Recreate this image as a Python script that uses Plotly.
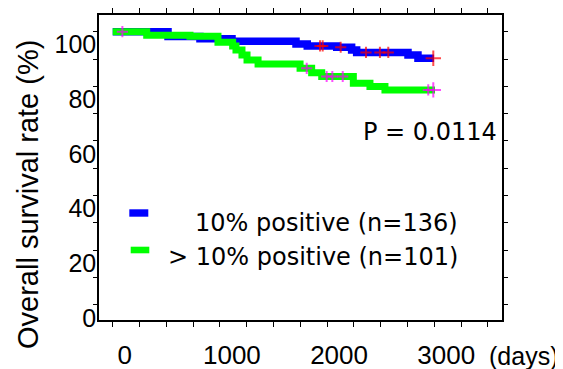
import plotly.graph_objects as go
import numpy as np

# ---- data ----
blue_days = [0, 516, 814, 1113, 1710, 1815, 2090, 2229, 2276, 2755, 2848, 2998]
blue_surv = [100, 98.2, 97.4, 96.5, 95.5, 94.8, 94.3, 93.3, 92.4, 91.5, 90.3, 90.3]
blue_cens = [1934, 1959, 2127, 2363, 2493, 2571, 2991]

green_days = [0, 317, 721, 982, 1119, 1150, 1206, 1253, 1356, 1748, 1856, 1950, 2245, 2400, 2540, 3007]
green_surv = [100, 98.7, 98.3, 96.1, 94.8, 93.3, 91.5, 89.6, 88.2, 86.6, 85.0, 83.6, 81.1, 79.9, 78.7, 78.7]
green_cens = [90, 1810, 1996, 2049, 2146, 2944, 2991]

blue_name = "10% positive (n=136)"
green_name = "> 10% positive (n=101)"
p_text = "P = 0.0114"

x_ticks = list(range(0, 3501, 250))
x_labels = {0: "0", 1000: "1000", 2000: "2000", 3000: "3000"}
y_ticks = list(range(0, 101, 10))
y_labels = {0: "0", 20: "20", 40: "40", 60: "60", 80: "80", 100: "100"}


def step_value(days, surv, d):
    idx = np.searchsorted(days, d, side="right") - 1
    return surv[max(idx, 0)]


fig = go.Figure()
fig.add_trace(go.Scatter(x=blue_days, y=blue_surv, mode="lines", line=dict(color="#0000FF", width=7.5, shape="hv"),
                         showlegend=False, hoverinfo="skip"))
fig.add_trace(go.Scatter(x=green_days, y=green_surv, mode="lines", line=dict(color="#00FF00", width=7, shape="hv"),
                         showlegend=False, hoverinfo="skip"))

for days, surv, cens, col in [(blue_days, blue_surv, blue_cens, "#FF0000"),
                              (green_days, green_surv, green_cens, "#FF00FF")]:
    ys = [step_value(days, surv, d) for d in cens]
    sizes = [8] * (len(cens) - 1) + [11]
    fig.add_trace(go.Scatter(x=cens, y=ys, mode="markers",
                             marker=dict(symbol="cross-thin", size=sizes, color=col,
                                         line=dict(color=col, width=2)),
                             showlegend=False, hoverinfo="skip"))

# page body has an 8px margin, so the figure is drawn 8px in from the window edge
OFF = 8
L, R, T, B = 99, 502, 15, 320          # plot box in window pixels
W, H = 563 - OFF, 369 - OFF


def px(x):
    return (x - L) / (R - L)


def py(y):
    return (B - y) / (B - T)


font_lab = "Liberation Sans, Arial, sans-serif"
font_leg = "DejaVu Sans, Verdana, sans-serif"

fig.update_layout(
    width=W, height=H,
    margin=dict(l=L - OFF, r=563 - R, t=T - OFF, b=369 - B, autoexpand=False),
    paper_bgcolor="white", plot_bgcolor="white",
    xaxis=dict(range=[-128, 3632], tickmode="array", tickvals=x_ticks,
               ticktext=[x_labels.get(v, "") for v in x_ticks],
               ticks="outside", ticklen=5, tickwidth=1, tickcolor="black",
               showline=True, linecolor="black", linewidth=1.5, mirror="allticks",
               showgrid=False, zeroline=False, automargin=False,
               tickfont=dict(family=font_lab, size=26, color="black"),
               ticklabelshift=12, ticklabelstandoff=6),
    yaxis=dict(range=[-5.5, 106.1], tickmode="array", tickvals=y_ticks,
               ticktext=[y_labels.get(v, "") for v in y_ticks],
               ticks="outside", ticklen=4, tickwidth=1, tickcolor="black",
               showline=True, linecolor="black", linewidth=1.5, mirror="allticks",
               showgrid=False, zeroline=False, automargin=False,
               tickfont=dict(family=font_lab, size=25, color="black"),
               ticklabelshift=13, ticklabelstandoff=-8),
    annotations=[
        dict(text="Overall survival rate (%)", x=px(28), y=py(195), xref="paper", yref="paper",
             textangle=-90, showarrow=False, xanchor="center", yanchor="middle",
             font=dict(family=font_lab, size=29, color="black")),
        dict(text="(days)", x=px(523), y=py(356), xref="paper", yref="paper",
             showarrow=False, xanchor="center", yanchor="middle",
             font=dict(family=font_lab, size=25, color="black")),
        dict(text=p_text, x=px(430), y=py(132), xref="paper", yref="paper",
             showarrow=False, xanchor="center", yanchor="middle",
             font=dict(family=font_leg, size=24, color="black")),
        dict(text=blue_name, x=px(460), y=py(223), xref="paper", yref="paper",
             showarrow=False, xanchor="right", yanchor="middle",
             font=dict(family=font_leg, size=24, color="black")),
        dict(text=green_name, x=px(460), y=py(257), xref="paper", yref="paper",
             showarrow=False, xanchor="right", yanchor="middle",
             font=dict(family=font_leg, size=24, color="black")),
    ],
    shapes=[
        dict(type="rect", xref="paper", yref="paper", x0=px(129.3), x1=px(148.3), y0=py(216.7), y1=py(209.3),
             fillcolor="#0000FF", line=dict(width=0)),
        dict(type="rect", xref="paper", yref="paper", x0=px(130.7), x1=px(149.3), y0=py(253.3), y1=py(246.7),
             fillcolor="#00FF00", line=dict(width=0)),
    ],
)

fig.write_html("out.html")
